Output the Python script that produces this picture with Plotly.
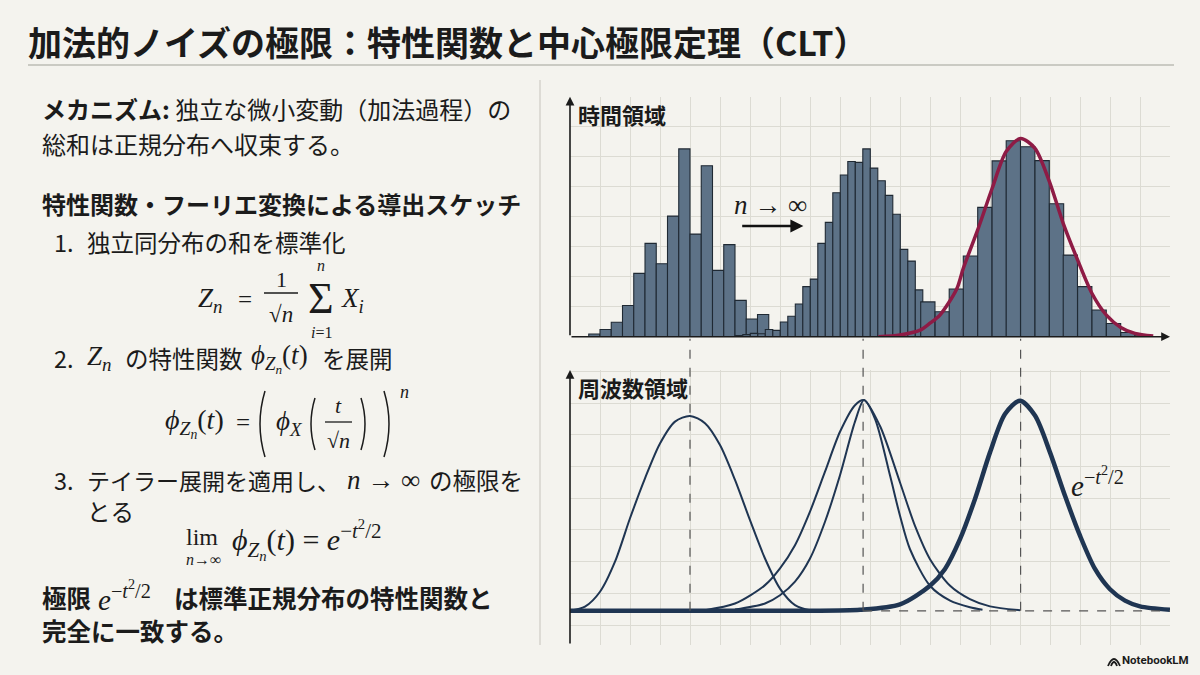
import plotly.graph_objects as go

W, H = 1200, 675
BG = '#f4f3ee'
INK = '#1b1b1b'
GRID = '#dcdbd3'
BAR = '#5d7287'
BAR_EDGE = '#1f2933'
NAVY = '#1f3552'
CRIMSON = '#8e1b45'
JP = 'Noto Sans CJK JP'
MATH = 'Liberation Serif'

# --- time domain: three histograms (left bin edge, height), grid squares ---
hist1_left = [0.625, 1.0, 1.375, 1.75, 2.125, 2.5, 2.875, 3.25, 3.625, 4.0,
              4.375, 4.75, 5.125, 5.5, 5.875, 6.25]
hist1_height = [0.09, 0.24, 0.48, 1.04, 2.11, 3.11, 2.43, 4.02, 6.26, 3.42,
                5.70, 2.21, 3.07, 1.21, 0.59, 0.74]
hist1_width = 0.375

hist2_left = [5.51, 5.76, 6.01, 6.26, 6.51, 6.76, 7.01, 7.26, 7.51, 7.76,
              8.01, 8.26, 8.51, 8.76, 9.01, 9.26, 9.51, 9.76, 10.01, 10.26,
              10.51, 10.76, 11.01, 11.26, 11.51, 11.76, 12.01]
hist2_height = [0.04, 0.07, 0.11, 0.10, 0.24, 0.21, 0.49, 0.68, 1.09, 1.67,
                1.92, 3.11, 3.81, 4.80, 5.39, 5.84, 5.81, 6.26, 5.62, 5.20,
                4.71, 4.08, 2.91, 2.52, 1.56, 0.90, 0.40]
hist2_width = 0.25

hist3_left = [11.69, 12.17, 12.64, 13.11, 13.59, 14.07, 14.54, 15.02, 15.50,
              15.98, 16.44, 16.92, 17.40, 17.88, 18.36, 18.83]
hist3_height = [1.16, 0.83, 1.59, 2.69, 4.31, 5.86, 6.53, 6.33, 5.87,
                4.43, 2.72, 1.67, 0.89, 0.44, 0.14, 0.06]
hist3_width = 0.476

# normal fit drawn over the third histogram
fit_x = [10.28, 11.0, 11.67, 12.0, 12.33, 12.89, 13.11, 13.59, 14.07, 14.54,
         15.02, 15.5, 15.98, 16.44, 16.92, 17.4, 17.88, 18.36, 18.83, 19.44]
fit_y = [0.0, 0.06, 0.22, 0.45, 0.72, 1.59, 2.28, 3.56, 4.94, 6.17,
         6.61, 6.28, 5.17, 3.78, 2.56, 1.44, 0.72, 0.31, 0.11, 0.02]

# --- frequency domain: characteristic functions ---
cf1_x = [0, 0.5, 1.0, 1.5, 2.0, 2.5, 3.0, 3.5, 4.0, 4.5, 5.0, 5.5, 6.0, 6.5,
         7.0, 7.5, 8.0, 8.5]
cf1_y = [0, 0.13, 0.60, 1.55, 2.92, 4.18, 5.28, 5.97, 6.15, 5.92, 5.23, 4.13,
         2.86, 1.65, 0.70, 0.18, 0.02, 0]

cf2_x = [4.5, 5.5, 6.5, 7.0, 7.5, 8.0, 8.5, 9.0, 9.5, 9.8, 10.33, 11.0, 11.5,
         12.0, 12.67, 13.33, 14.0, 15.0]
cf2_y = [0.02, 0.23, 0.81, 1.34, 2.07, 3.13, 4.39, 5.65, 6.49, 6.65, 5.84,
         4.05, 2.68, 1.63, 0.79, 0.37, 0.14, 0.02]

cf3_x = [5.5, 6.5, 7.0, 7.5, 8.0, 8.5, 9.0, 9.5, 9.8, 10.17, 10.67, 11.0,
         11.33, 12.0, 12.67, 13.33, 13.75]
cf3_y = [0.04, 0.23, 0.49, 0.92, 1.65, 2.81, 4.28, 5.97, 6.65, 6.05, 4.26,
         3.0, 1.95, 0.79, 0.32, 0.11, 0.03]

gauss_x = [0, 3, 6, 8, 9.67, 11.0, 12.0, 12.5, 13.0, 13.5, 14.0, 14.5, 15.0,
           15.5, 16.0, 16.5, 17.0, 17.5, 18.0, 18.5, 19.0, 20.0]
gauss_y = [0, 0, 0, 0, 0.03, 0.20, 0.79, 1.32, 2.26, 3.53, 5.0, 6.21, 6.63,
           6.16, 5.0, 3.63, 2.37, 1.32, 0.68, 0.32, 0.14, 0.03]

peak_x = [4.0, 9.77, 15.02]


def px(x):
    return x / W


def py(y):
    return 1 - y / H


fig = go.Figure()

for left, height, w in ((hist1_left, hist1_height, hist1_width),
                        (hist2_left, hist2_height, hist2_width),
                        (hist3_left, hist3_height, hist3_width)):
    fig.add_trace(go.Bar(
        x=[l + w / 2 for l in left], y=height, width=w,
        marker=dict(color=BAR, line=dict(color=BAR_EDGE, width=1.1)),
        xaxis='x', yaxis='y'))

fig.add_trace(go.Scatter(x=fit_x, y=fit_y, mode='lines',
                         line=dict(color=CRIMSON, width=3.5, shape='spline', smoothing=0.8),
                         xaxis='x', yaxis='y'))

for cx, cy in ((cf1_x, cf1_y), (cf2_x, cf2_y), (cf3_x, cf3_y)):
    fig.add_trace(go.Scatter(x=cx, y=cy, mode='lines',
                             line=dict(color=NAVY, width=2, shape='spline', smoothing=0.8),
                             xaxis='x2', yaxis='y2'))
fig.add_trace(go.Scatter(x=gauss_x, y=gauss_y, mode='lines',
                         line=dict(color=NAVY, width=4.5, shape='spline', smoothing=0.8),
                         xaxis='x2', yaxis='y2'))

dom_x = [px(570), px(1170)]
dom_top = [py(336.7), py(96.7)]
dom_bot = [py(645), py(370)]
rng_bot = [-1.08, 7.6]
common = dict(showgrid=True, gridcolor=GRID, gridwidth=1, showticklabels=False,
              ticks='', zeroline=False, showline=False, fixedrange=True, dtick=1)

fig.update_layout(
    width=W, height=H, margin=dict(l=0, r=0, t=0, b=0),
    paper_bgcolor=BG, plot_bgcolor=BG, showlegend=False, barmode='overlay',
    hovermode=False,
    xaxis=dict(domain=dom_x, range=[0, 20], tick0=0, anchor='y', **common),
    yaxis=dict(domain=dom_top, range=[0, 8], tick0=0, anchor='x', **common),
    xaxis2=dict(domain=dom_x, range=[0, 20], tick0=0, anchor='y2', **common),
    yaxis2=dict(domain=dom_bot, range=rng_bot, tick0=0.55, anchor='x2', **common),
)

# dashed guides from the time axis down to the frequency baseline
base_bot = dom_bot[0] + (0 - rng_bot[0]) / (rng_bot[1] - rng_bot[0]) * (dom_bot[1] - dom_bot[0])
for p in peak_x:
    fig.add_shape(type='line', xref='x', yref='paper', x0=p, x1=p,
                  y0=base_bot, y1=dom_top[0] - 0.003,
                  line=dict(color='#555555', width=1.2, dash='dash'))
fig.add_shape(type='line', xref='x2', yref='y2', x0=peak_x[1], x1=20, y0=0, y1=0,
              line=dict(color='#555555', width=1.2, dash='dash'))

# axis arrows
arrow = dict(showarrow=True, arrowhead=2, arrowsize=1.1, arrowwidth=1.6,
             arrowcolor=INK, text='', standoff=0, startstandoff=0)
fig.add_annotation(x=0, y=8, ax=0, ay=0, xref='x', yref='y', axref='x', ayref='y', **arrow)
fig.add_annotation(x=20, y=0, ax=0, ay=0, xref='x', yref='y', axref='x', ayref='y', **arrow)
fig.add_annotation(x=0, y=rng_bot[1], ax=0, ay=rng_bot[0], xref='x2', yref='y2',
                   axref='x2', ayref='y2', **arrow)

# n -> infinity arrow in the time panel
fig.add_annotation(x=7.78, y=3.69, ax=5.69, ay=3.69, xref='x', yref='y', axref='x', ayref='y',
                   showarrow=True, arrowhead=2, arrowsize=1, arrowwidth=2.6,
                   arrowcolor='#111111', text='')
fig.add_annotation(x=6.67, y=4.39, xref='x', yref='y', showarrow=False,
                   text='<i>n</i> → ∞', font=dict(family=MATH, size=27, color=INK))
fig.add_annotation(x=16.62, y=4.06, xref='x2', yref='y2', showarrow=False, xanchor='left',
                   text='<i>e</i><sup>−<i>t</i><sup>2</sup>/2</sup>',
                   font=dict(family=MATH, size=29, color=INK))


def note(x, y, text, size=24, family=JP, xanchor='left'):
    fig.add_annotation(x=px(x), y=py(y), xref='paper', yref='paper', text=text,
                       showarrow=False, xanchor=xanchor, yanchor='middle',
                       font=dict(family=family, size=size, color=INK))


def rule(x0, x1, y, width=1.3, color=INK):
    fig.add_shape(type='line', xref='paper', yref='paper', x0=px(x0), x1=px(x1),
                  y0=py(y), y1=py(y), line=dict(color=color, width=width))


def paren(x, top, bottom, bulge, width=1.5):
    # thin TeX-like bracket as a curved stroke; bulge < 0 opens right
    mid = (top + bottom) / 2
    fig.add_shape(type='path', xref='paper', yref='paper',
                  path='M {0},{1} Q {2},{3} {0},{4}'.format(
                      px(x), py(top), px(x + 2 * bulge), py(mid), py(bottom)),
                  line=dict(color=INK, width=width))


# panel labels
note(576, 114, '<b>時間領域</b>', 22)
note(576, 387, '<b>周波数領域</b>', 22)

# title and frame
note(26, 42, '<b>加法的ノイズの極限：特性関数と中心極限定理（CLT）</b>', 34)
rule(28, 1174, 65, 1.5, '#bcbcb5')
fig.add_shape(type='line', xref='paper', yref='paper', x0=px(540), x1=px(540),
              y0=py(80), y1=py(645), line=dict(color='#cdccc5', width=1.2))

# left column text
note(40, 108, '<b>メカニズム:</b> 独立な微小変動（加法過程）の')
note(40, 143, '総和は正規分布へ収束する。')
note(40, 203, '<b>特性関数・フーリエ変換による導出スケッチ</b>')

note(52, 242, '1.', 23.5)
note(85, 242, '独立同分布の和を標準化', 23.5)
note(196, 300, '<i>Z</i><sub><i>n</i></sub>', 27, MATH)
note(245, 299, '=', 25, MATH, 'center')
note(281, 280, '1', 22, MATH, 'center')
rule(264, 298, 293)
note(281, 314, '√<i>n</i>', 23, MATH, 'center')
note(321, 298, 'Σ', 44, MATH, 'center')
note(321, 265, '<i>n</i>', 16, MATH, 'center')
note(321, 332, '<i>i</i>=1', 16, MATH, 'center')
note(339, 300, '<i>X</i><sub><i>i</i></sub>', 27, MATH)

note(52, 358, '2.', 23.5)
note(85, 358, '<i>Z</i><sub><i>n</i></sub>', 27, MATH)
note(123, 358, 'の特性関数', 23.5)
note(249, 358, '<i>ϕ</i><sub><i>Z<sub>n</sub></i></sub>(<i>t</i>)', 27, MATH)
note(320, 358, 'を展開', 23.5)

note(163, 423, '<i>ϕ</i><sub><i>Z<sub>n</sub></i></sub>(<i>t</i>)', 28, MATH)
note(243, 422, '=', 25, MATH, 'center')
paren(265, 391, 457, -5)
note(274, 423, '<i>ϕ</i><sub><i>X</i></sub>', 27, MATH)
paren(315, 398, 450, -4)
note(338, 405, '<i>t</i>', 22, MATH, 'center')
rule(325, 352, 422)
note(338, 440, '√<i>n</i>', 22, MATH, 'center')
paren(361, 398, 450, 4)
paren(384, 391, 457, 5)
note(404, 392, '<i>n</i>', 18, MATH, 'center')

note(52, 480, '3.', 23.5)
note(85, 480, 'テイラー展開を適用し、', 23)
note(345, 480, '<i>n</i> → ∞', 27, MATH)
note(427, 480, 'の極限を', 23.5)
note(85, 511, 'とる', 23.5)

note(202, 537, 'lim', 24, MATH, 'center')
note(203, 559, '<i>n</i>→∞', 16, MATH, 'center')
note(230, 540, '<i>ϕ</i><sub><i>Z<sub>n</sub></i></sub>(<i>t</i>) = <i>e</i><sup>−<i>t</i><sup>2</sup>/2</sup>',
     30, MATH)

note(40, 597, '<b>極限</b>', 24.5)
note(96, 596, '<i>e</i><sup>−<i>t</i><sup>2</sup>/2</sup>', 29, MATH)
note(172, 597, '<b>は標準正規分布の特性関数と</b>', 24.5)
note(40, 630, '<b>完全に一致する。</b>', 24.5)

# NotebookLM mark
fig.add_shape(type='path', xref='paper', yref='paper',
              path='M {0},{1} Q {2},{3} {4},{1} M {5},{1} Q {2},{6} {7},{1}'.format(
                  px(1108), py(666), px(1114), py(652), px(1120), px(1111), py(658), px(1117)),
              line=dict(color=INK, width=1.8))
note(1120, 660, '<b>NotebookLM</b>', 11.5, 'Roboto')

fig.write_html("out.html", config={'displayModeBar': False},
               post_script="document.body.style.margin='0';")
